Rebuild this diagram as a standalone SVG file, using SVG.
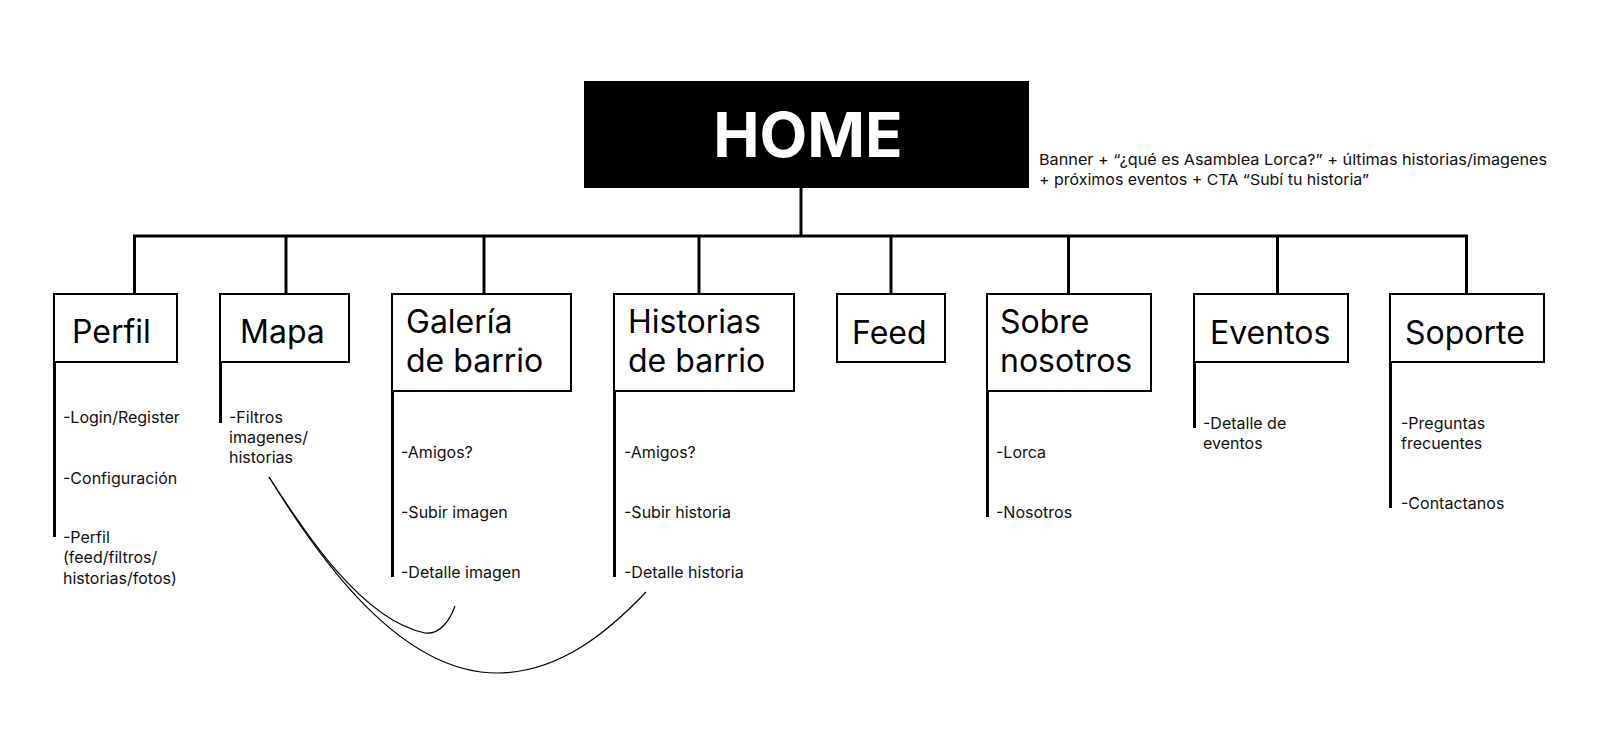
<svg xmlns="http://www.w3.org/2000/svg" width="1600" height="754" viewBox="0 0 1600 754">
<style>
.box{fill:#fff;stroke:#000;stroke-width:2}
.lbl{font-family:Inter,"Noto Sans",sans-serif;font-size:32px;fill:#000}
.sub{font-family:Inter,"Noto Sans",sans-serif;font-size:16px;fill:#111}
.ban{font-family:Inter,"Noto Sans",sans-serif;font-size:15px;fill:#111}
.bar{stroke:#000;stroke-width:3;fill:none}
.con{stroke:#000;stroke-width:3;fill:none}
.curve{stroke:#000;stroke-width:1.2;fill:none}
</style>
<rect width="1600" height="754" fill="#fff"/>
<g id="connectors">
<line class="con" x1="801" y1="188" x2="801" y2="236"/>
<line class="con" x1="133" y1="236" x2="1468" y2="236"/>
<line class="con" x1="134.5" y1="236" x2="134.5" y2="294"/>
<line class="con" x1="286" y1="236" x2="286" y2="294"/>
<line class="con" x1="484" y1="236" x2="484" y2="294"/>
<line class="con" x1="699" y1="236" x2="699" y2="294"/>
<line class="con" x1="891" y1="236" x2="891" y2="294"/>
<line class="con" x1="1068.5" y1="236" x2="1068.5" y2="294"/>
<line class="con" x1="1277.5" y1="236" x2="1277.5" y2="294"/>
<line class="con" x1="1466.5" y1="236" x2="1466.5" y2="294"/>
<path class="curve" d="M269 477 C300 525,360 620,425 633 C440 635,450 620,455 606"/>
<path class="curve" d="M269 477 C320 560,400 673,497 673 C560 673,610 630,646 592"/>
</g>
<g id="home">
<rect x="584" y="81" width="445" height="107" fill="#000"/>
<text x="808" y="157" text-anchor="middle" font-family="Inter,'Noto Sans',sans-serif" font-weight="700" font-size="62" fill="#fff">HOME</text>
<text class="ban" x="1039" y="165" textLength="508" lengthAdjust="spacingAndGlyphs">Banner + “¿qué es Asamblea Lorca?” + últimas historias/imagenes</text>
<text class="ban" x="1039" y="185" textLength="330" lengthAdjust="spacingAndGlyphs">+ próximos eventos + CTA “Subí tu historia”</text>
</g>
<g id="perfil">
<rect class="box" x="54" y="294" width="123" height="68"/>
<text class="lbl" x="72" y="343">Perfil</text>
<line class="bar" x1="54.5" y1="362" x2="54.5" y2="537"/>
<text class="sub" x="63" y="423">-Login/Register</text>
<text class="sub" x="63" y="484">-Configuración</text>
<text class="sub" x="63" y="543">-Perfil</text>
<text class="sub" x="63" y="563">(feed/filtros/</text>
<text class="sub" x="63" y="584">historias/fotos)</text>
</g>
<g id="mapa">
<rect class="box" x="220" y="294" width="129" height="68"/>
<text class="lbl" x="240" y="343">Mapa</text>
<line class="bar" x1="220.5" y1="362" x2="220.5" y2="423"/>
<text class="sub" x="229" y="423">-Filtros</text>
<text class="sub" x="229" y="443">imagenes/</text>
<text class="sub" x="229" y="463">historias</text>
</g>
<g id="galeria">
<rect class="box" x="392" y="294" width="179" height="97"/>
<text class="lbl" x="406" y="333">Galería</text>
<text class="lbl" x="406" y="372">de barrio</text>
<line class="bar" x1="392.5" y1="391" x2="392.5" y2="577"/>
<text class="sub" x="401" y="458">-Amigos?</text>
<text class="sub" x="401" y="518">-Subir imagen</text>
<text class="sub" x="401" y="578">-Detalle imagen</text>
</g>
<g id="historias">
<rect class="box" x="614" y="294" width="180" height="97"/>
<text class="lbl" x="628" y="333">Historias</text>
<text class="lbl" x="628" y="372">de barrio</text>
<line class="bar" x1="614.5" y1="391" x2="614.5" y2="577"/>
<text class="sub" x="624" y="458">-Amigos?</text>
<text class="sub" x="624" y="518">-Subir historia</text>
<text class="sub" x="624" y="578">-Detalle historia</text>
</g>
<g id="feed">
<rect class="box" x="837" y="294" width="108" height="68"/>
<text class="lbl" x="852" y="344">Feed</text>
</g>
<g id="sobre">
<rect class="box" x="987" y="294" width="164" height="97"/>
<text class="lbl" x="1000" y="333">Sobre</text>
<text class="lbl" x="1000" y="372">nosotros</text>
<line class="bar" x1="987.5" y1="391" x2="987.5" y2="517"/>
<text class="sub" x="996" y="458">-Lorca</text>
<text class="sub" x="996" y="518">-Nosotros</text>
</g>
<g id="eventos">
<rect class="box" x="1194" y="294" width="154" height="68"/>
<text class="lbl" x="1210" y="344">Eventos</text>
<line class="bar" x1="1194.5" y1="362" x2="1194.5" y2="428"/>
<text class="sub" x="1203" y="429">-Detalle de</text>
<text class="sub" x="1203" y="449">eventos</text>
</g>
<g id="soporte">
<rect class="box" x="1390" y="294" width="154" height="68"/>
<text class="lbl" x="1405" y="344">Soporte</text>
<line class="bar" x1="1390.5" y1="362" x2="1390.5" y2="508"/>
<text class="sub" x="1401" y="429">-Preguntas</text>
<text class="sub" x="1401" y="449">frecuentes</text>
<text class="sub" x="1401" y="509">-Contactanos</text>
</g>
</svg>
